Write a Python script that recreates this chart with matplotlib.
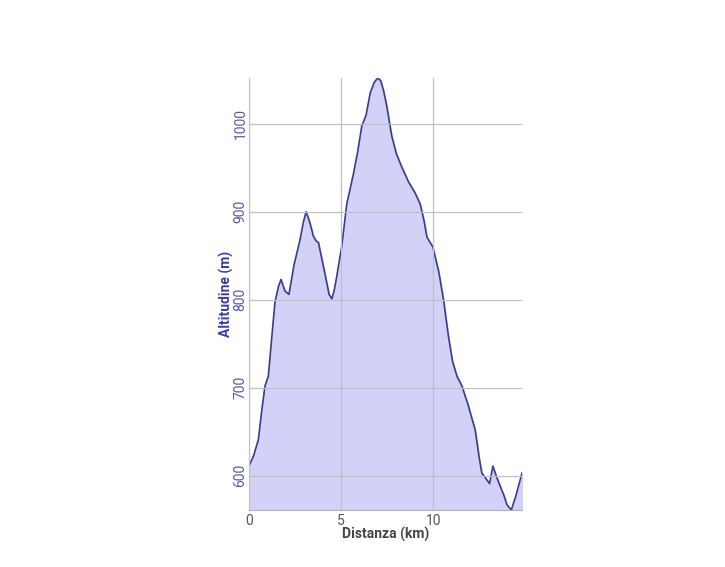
import matplotlib.pyplot as plt

plt.rcParams['font.family'] = ['Roboto', 'DejaVu Sans']

distanza = [0.0, 0.24, 0.51, 0.7, 0.87, 1.05, 1.25, 1.41, 1.6, 1.74, 1.95, 2.17, 2.45,
            2.77, 2.95, 3.1, 3.3, 3.5, 3.64, 3.77, 4.1, 4.35, 4.5, 4.62, 4.76, 5.03,
            5.31, 5.67, 5.9, 6.12, 6.36, 6.58, 6.8, 6.99, 7.15, 7.3, 7.48, 7.75, 8.0,
            8.29, 8.66, 9.0, 9.29, 9.5, 9.66, 9.98, 10.3, 10.56, 10.83, 11.05, 11.29,
            11.56, 11.9, 12.28, 12.5, 12.64, 12.85, 13.06, 13.24, 13.45, 13.64, 13.85,
            14.0, 14.24, 14.5, 14.82]
altitudine = [611, 622, 641, 675, 702, 713, 760, 797, 815, 823, 810, 806, 840,
              868, 888, 900, 888, 872, 867, 865, 832, 806, 801, 810, 826, 860,
              909, 943, 968, 997, 1010, 1035, 1047, 1052, 1049, 1038, 1020, 986, 966,
              951, 934, 922, 909, 890, 871, 860, 832, 800, 758, 730, 713,
              702, 680, 652, 620, 603, 597, 591, 611, 598, 588, 577,
              567, 561, 578, 603]

fig = plt.figure(figsize=(7.25, 5.67), dpi=100)
ax = fig.add_axes([0.3434, 0.1005, 0.3766, 0.762])

ax.fill_between(distanza, altitudine, 500, color='#d2d2f8')
ax.plot(distanza, altitudine, color='#3c3c8c', lw=1.2)

ax.set_xlim(0, 14.82)
ax.set_ylim(561, 1052)
ax.set_xticks([0, 5, 10])
ax.set_yticks([600, 700, 800, 900, 1000])
ax.grid(True, color='#c0c0c0', lw=0.9)
ax.set_axisbelow(False)
for s in ['top', 'right']:
    ax.spines[s].set_visible(False)
for s in ['left', 'bottom']:
    ax.spines[s].set_color('#b0b0b0')

ax.tick_params(length=0)
ax.tick_params(axis='x', colors='#555555', labelsize=10, pad=3)
ax.tick_params(axis='y', colors='#5a5aaa', labelsize=10, pad=1)
for t in ax.get_yticklabels():
    t.set_rotation(90)
    t.set_va('center')

ax.set_xlabel('Distanza (km)', fontsize=10, fontweight='bold', color='#444444', labelpad=-1)
ax.set_ylabel('Altitudine (m)', fontsize=10, fontweight='bold', color='#3a3aaa', labelpad=0)

plt.savefig('out.png', dpi=100)
